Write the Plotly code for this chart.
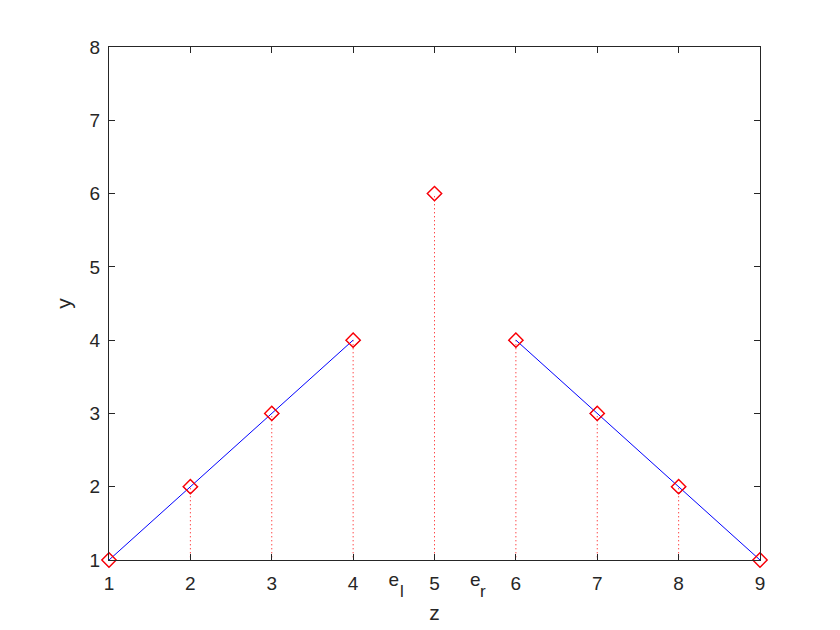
import plotly.graph_objects as go

z = [1, 2, 3, 4, 5, 6, 7, 8, 9]
y = [1, 2, 3, 4, 6, 4, 3, 2, 1]
left_z = [1, 2, 3, 4]
left_y = [1, 2, 3, 4]
right_z = [6, 7, 8, 9]
right_y = [4, 3, 2, 1]
stem_base = 0
xtick_vals = [1, 2, 3, 4, 5, 6, 7, 8, 9]
edge_tick_vals = [4.5, 5.5]
edge_tick_base = ["e", "e"]
edge_tick_sub = ["l", "r"]
ytick_vals = [1, 2, 3, 4, 5, 6, 7, 8]

FONT = "Liberation Sans, Arial, sans-serif"
TXT = "#262626"

fig = go.Figure()

# stems (red dotted)
sx, sy = [], []
for zi, yi in zip(z, y):
    sx += [zi, zi, None]
    sy += [stem_base, yi, None]
fig.add_trace(go.Scatter(x=sx, y=sy, mode="lines",
                         line=dict(color="#FF0000", width=1, dash="1px,3px"),
                         hoverinfo="skip", showlegend=False))

# blue lines
for xs, ys in [(left_z, left_y), (right_z, right_y)]:
    fig.add_trace(go.Scatter(x=xs, y=ys, mode="lines",
                             line=dict(color="#0000FF", width=1),
                             showlegend=False))
# blue diamonds
fig.add_trace(go.Scatter(x=z, y=y, mode="markers",
                         marker=dict(symbol="diamond-open", size=11,
                                     color="#0000FF", line=dict(width=1)),
                         showlegend=False, cliponaxis=False))
# red stem markers
fig.add_trace(go.Scatter(x=z, y=y, mode="markers",
                         marker=dict(symbol="diamond-open", size=11,
                                     color="#FF0000", line=dict(width=1.4)),
                         showlegend=False, cliponaxis=False))

# invisible trace for the secondary label axis
fig.add_trace(go.Scatter(x=edge_tick_vals, y=[None, None], xaxis="x2", yaxis="y",
                         mode="markers", showlegend=False, hoverinfo="skip"))

# subscripts of e_l, e_r
for xv, s in zip(edge_tick_vals, edge_tick_sub):
    fig.add_annotation(x=xv, xref="x", y=0, yref="paper", text=s, showarrow=False,
                       xanchor="center", yanchor="top", xshift=8, yshift=-20,
                       font=dict(family=FONT, size=17, color=TXT))

axis_common = dict(showgrid=False, zeroline=False, showline=True, mirror="ticks",
                   linecolor=TXT, linewidth=1, ticks="inside", ticklen=6,
                   tickcolor=TXT, tickfont=dict(family=FONT, size=19, color=TXT))

fig.update_layout(
    width=840, height=630,
    margin=dict(l=101, r=88, t=39, b=78),
    paper_bgcolor="white", plot_bgcolor="white",
    xaxis=dict(range=[1, 9], tickmode="array", tickvals=xtick_vals,
               ticklabelstandoff=6,
               title=dict(text="z", font=dict(family=FONT, size=21, color=TXT), standoff=12),
               **axis_common),
    xaxis2=dict(range=[1, 9], overlaying="x", side="bottom", anchor="y",
                tickmode="array", tickvals=edge_tick_vals, ticktext=edge_tick_base,
                ticks="", showline=False, showgrid=False, zeroline=False,
                ticklabelstandoff=6,
                tickfont=dict(family=FONT, size=19, color=TXT)),
    yaxis=dict(range=[1, 8], tickmode="array", tickvals=ytick_vals,
               ticklabelstandoff=4,
               title=dict(text="y", font=dict(family=FONT, size=21, color=TXT), standoff=12),
               **axis_common),
)

fig.write_html("out.html")
